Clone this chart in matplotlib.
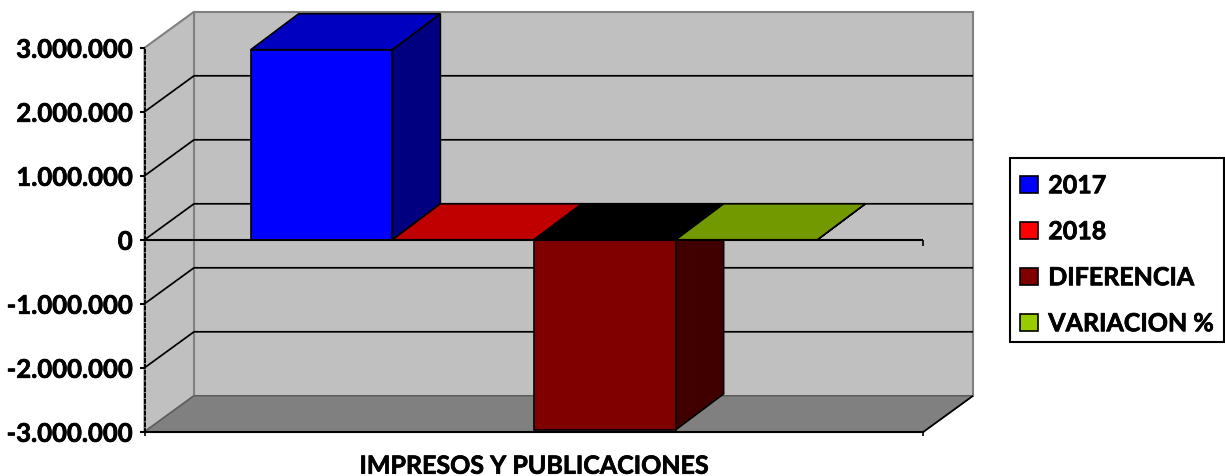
import matplotlib
matplotlib.use("Agg")
import matplotlib.pyplot as plt
import matplotlib.patheffects as pe
from matplotlib.patches import Polygon, Patch, Rectangle

plt.rcParams['font.family'] = ['Lato', 'DejaVu Sans']
plt.rcParams['font.weight'] = 'bold'

category = "IMPRESOS Y PUBLICACIONES"
series_names = ["2017", "2018", "DIFERENCIA", "VARIACION %"]
series_values = [2970000, 0, -2970000, -100]
y_ticks = [3000000, 2000000, 1000000, 0, -1000000, -2000000, -3000000]
y_labels = ["3.000.000", "2.000.000", "1.000.000", "0", "-1.000.000", "-2.000.000", "-3.000.000"]

front_colors = ["#0000FF", "#FF0000", "#800000", "#99CC00"]
top_colors = ["#0000C0", "#C00000", "#000000", "#739900"]
side_colors = ["#000080", "#800000", "#400000", "#4D6600"]

WALL = "#C0C0C0"
FLOOR = "#808080"
TICK_SIZE = 18.5
TEXT_SIZE = 18

W, H = 1225, 477
fig = plt.figure(figsize=(W / 100, H / 100), dpi=100)
ax = fig.add_axes([144.5 / W, (H - 432.8) / H, 779 / W, 384 / H])
ax.set_xlim(0, 1)
ax.set_ylim(-3000000, 3000000)
ax.patch.set_visible(False)

# depth of the fake 3d box, in data units
dx = 49.5 / 779
dy = 36 * 6000000 / 384
y_top, y_bot = y_ticks[0], y_ticks[-1]
heavy = [pe.withStroke(linewidth=0.5, foreground='black')]


def face(points, color, edge, lw=1.2, z=1):
    ax.add_patch(Polygon(points, closed=True, facecolor=color, edgecolor=edge,
                         linewidth=lw, clip_on=False, zorder=z, joinstyle='miter'))


def line(xs, ys, color='black', lw=1.25, z=1.5):
    ax.plot(xs, ys, color=color, linewidth=lw, clip_on=False, zorder=z, solid_capstyle='butt')


# walls and floor
face([(dx, y_bot + dy), (1 + dx, y_bot + dy), (1 + dx, y_top + dy), (dx, y_top + dy)], WALL, FLOOR, 1.5)
face([(0, y_bot), (dx, y_bot + dy), (dx, y_top + dy), (0, y_top)], WALL, FLOOR, 1.5)
face([(0, y_bot), (1, y_bot), (1 + dx, y_bot + dy), (dx, y_bot + dy)], FLOOR, "#5A5A5A", 1.0)
line([1, 1 + dx], [y_bot, y_bot + dy])

# gridlines on back and side wall
for t in y_ticks[1:-1]:
    line([0, dx, 1 + dx], [t, t + dy, t + dy])

# bars, 150% gap
bar_w = 1 / 5.5
gap = 0.75 * bar_w
depth_x = 48 / 779
for i, v in enumerate(series_values):
    x0 = gap + i * bar_w
    x1 = x0 + bar_w
    hi = max(v, 0)
    lo = min(v, 0)
    if hi != lo:
        face([(x1, lo), (x1 + depth_x, lo + dy), (x1 + depth_x, hi + dy), (x1, hi)], side_colors[i], 'black', z=2 + i)
    face([(x0, hi), (x1, hi), (x1 + depth_x, hi + dy), (x0 + depth_x, hi + dy)], top_colors[i], 'black', z=2 + i)
    if hi != lo:
        face([(x0, lo), (x1, lo), (x1, hi), (x0, hi)], front_colors[i], 'black', z=2 + i)

# zero line in front of everything
line([0, 1], [0, 0], lw=1.5, z=8)
ax.plot([1], [0], marker=3, markersize=4, markeredgewidth=1.2, color='black', clip_on=False, zorder=8)

for s in ['top', 'right']:
    ax.spines[s].set_visible(False)
ax.spines['left'].set_linestyle((0, (1.5, 1.5)))
ax.spines['left'].set_linewidth(1.4)
ax.spines['bottom'].set_linewidth(1.5)

ax.set_yticks(y_ticks)
ax.set_yticklabels(y_labels, fontsize=TICK_SIZE, fontweight='bold', path_effects=heavy)
ax.tick_params(axis='y', length=3.5, width=1.5, pad=5)
ax.set_xticks([0, 1], ["", ""])
ax.tick_params(axis='x', length=3, width=1.2)
ax.set_xticks([0.5], [category], minor=True)
ax.tick_params(axis='x', which='minor', length=0, pad=16.5, labelsize=TEXT_SIZE)
for lab in ax.get_xticklabels(minor=True):
    lab.set_fontweight('bold')
    lab.set_path_effects(heavy)

# legend frame is drawn apart, the text sits lower in it than matplotlib would centre it
fig.add_artist(Rectangle((1009.5 / W, (H - 343) / H), 214.5 / W, 184 / H, transform=fig.transFigure,
                         facecolor='white', edgecolor='black', linewidth=1.5, zorder=3))
handles = [Patch(facecolor=c, edgecolor='black', linewidth=1.2) for c in front_colors]
leg = fig.legend(handles, series_names, loc='upper left',
                 bbox_to_anchor=(1009 / W, (H - 164) / H), bbox_transform=fig.transFigure,
                 fontsize=TEXT_SIZE, frameon=False,
                 handlelength=0.72, handleheight=0.72, handletextpad=0.4, labelspacing=0.92,
                 borderpad=0.45, borderaxespad=0)
leg.set_zorder(4)
for txt in leg.get_texts():
    txt.set_path_effects(heavy)

fig.savefig("out.png", dpi=100)
